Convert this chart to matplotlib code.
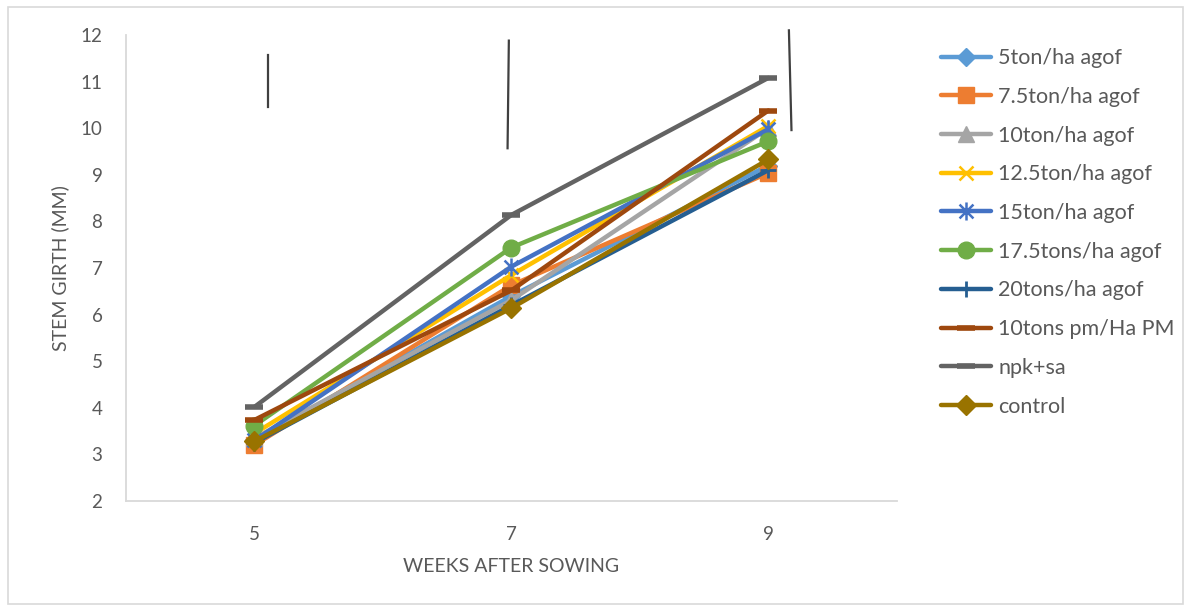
import numpy as np
import matplotlib.pyplot as plt
from matplotlib.path import Path
from matplotlib.patches import Rectangle

plt.rcParams['font.family'] = ['Lato', 'DejaVu Sans']

weeks = ['5', '7', '9']

treatments = ['5ton/ha agof', '7.5ton/ha agof', '10ton/ha agof', '12.5ton/ha agof',
              '15ton/ha agof', '17.5tons/ha agof', '20tons/ha agof',
              '10tons pm/Ha PM', 'npk+sa', 'control']

girth_5ton = [3.30, 6.40, 9.20]
girth_7_5ton = [3.20, 6.63, 9.04]
girth_10ton = [3.35, 6.31, 10.00]
girth_12_5ton = [3.45, 6.85, 10.05]
girth_15ton = [3.30, 7.03, 9.98]
girth_17_5ton = [3.62, 7.44, 9.72]
girth_20ton = [3.25, 6.20, 9.10]
girth_pm = [3.74, 6.52, 10.38]
girth_npk = [4.02, 8.14, 11.08]
girth_control = [3.28, 6.14, 9.33]

# stray vertical bars sitting above each week (week index offset, top, bottom)
bar_x_top = [0.053, 0.99, 2.08]
bar_x_bottom = [0.053, 0.985, 2.09]
bar_top = [11.57, 11.88, 12.10]
bar_bottom = [10.46, 9.57, 9.96]

colors = ['#5B9BD5', '#ED7D31', '#A5A5A5', '#FFC000', '#4472C4',
          '#70AD47', '#255E91', '#9E480E', '#636363', '#997300']

# Excel style asterisk: an X with a vertical stroke through it
star = Path([(-1, -1), (1, 1), (-1, 1), (1, -1), (0, -1.3), (0, 1.3)],
            [Path.MOVETO, Path.LINETO, Path.MOVETO, Path.LINETO, Path.MOVETO, Path.LINETO])
plus = Path([(0, -1), (0, 1), (-1, 0), (1, 0)],
            [Path.MOVETO, Path.LINETO, Path.MOVETO, Path.LINETO])

marker_styles = [
    dict(marker='D', ms=9),
    dict(marker='s', ms=11),
    dict(marker='^', ms=11),
    dict(marker='x', ms=10, mew=1.8),
    dict(marker=star, ms=13, mew=1.8),
    dict(marker='o', ms=12),
    dict(marker=plus, ms=11, mew=2),
    dict(marker='_', ms=13, mew=4),
    dict(marker='_', ms=13, mew=4),
    dict(marker='D', ms=10),
]

series = [girth_5ton, girth_7_5ton, girth_10ton, girth_12_5ton, girth_15ton,
          girth_17_5ton, girth_20ton, girth_pm, girth_npk, girth_control]

fig = plt.figure(figsize=(11.91, 6.07), dpi=100)
ax = fig.add_axes([0.1058, 0.1746, 0.6472, 0.7677])

x = np.arange(len(weeks))
for name, vals, c, m in zip(treatments, series, colors, marker_styles):
    ax.plot(x, vals, color=c, lw=3.2, label=name, mfc=c, mec=c,
            solid_capstyle='round', solid_joinstyle='round', **m)

for xt, xb, top, bot in zip(bar_x_top, bar_x_bottom, bar_top, bar_bottom):
    ax.plot([xt, xb], [top, bot], color='#404040', lw=1.6, clip_on=False)

ax.set_xlim(-0.5, 2.5)
ax.set_ylim(2, 12)
ax.set_xticks(x)
ax.set_xticklabels(weeks)
ax.set_yticks(np.arange(2, 13, 1))

for side in ['top', 'right']:
    ax.spines[side].set_visible(False)
for side in ['left', 'bottom']:
    ax.spines[side].set_color('#D9D9D9')
    ax.spines[side].set_linewidth(1.3)

ax.tick_params(axis='both', length=0, labelsize=13.5, colors='#595959')
ax.tick_params(axis='y', pad=17)
ax.tick_params(axis='x', pad=18)

ax.set_xlabel('WEEKS AFTER SOWING', fontsize=14, color='#595959')
ax.set_ylabel('STEM GIRTH (MM)', fontsize=14, color='#595959')
ax.xaxis.set_label_coords(0.5, -0.122)
ax.yaxis.set_label_coords(-0.0735, 0.5)

leg = ax.legend(loc='upper left', bbox_to_anchor=(0.783, 0.935),
                bbox_transform=fig.transFigure, frameon=False,
                fontsize=15.5, handlelength=2.3, handletextpad=0.35,
                labelspacing=0.87, borderaxespad=0)
for t in leg.get_texts():
    t.set_color('#595959')

# light chart-area border
fig.patches.append(Rectangle((0.007, 0.005), 0.986, 0.984, transform=fig.transFigure,
                             fill=False, edgecolor='#D9D9D9', lw=1.2))

fig.savefig('out.png', dpi=100)
